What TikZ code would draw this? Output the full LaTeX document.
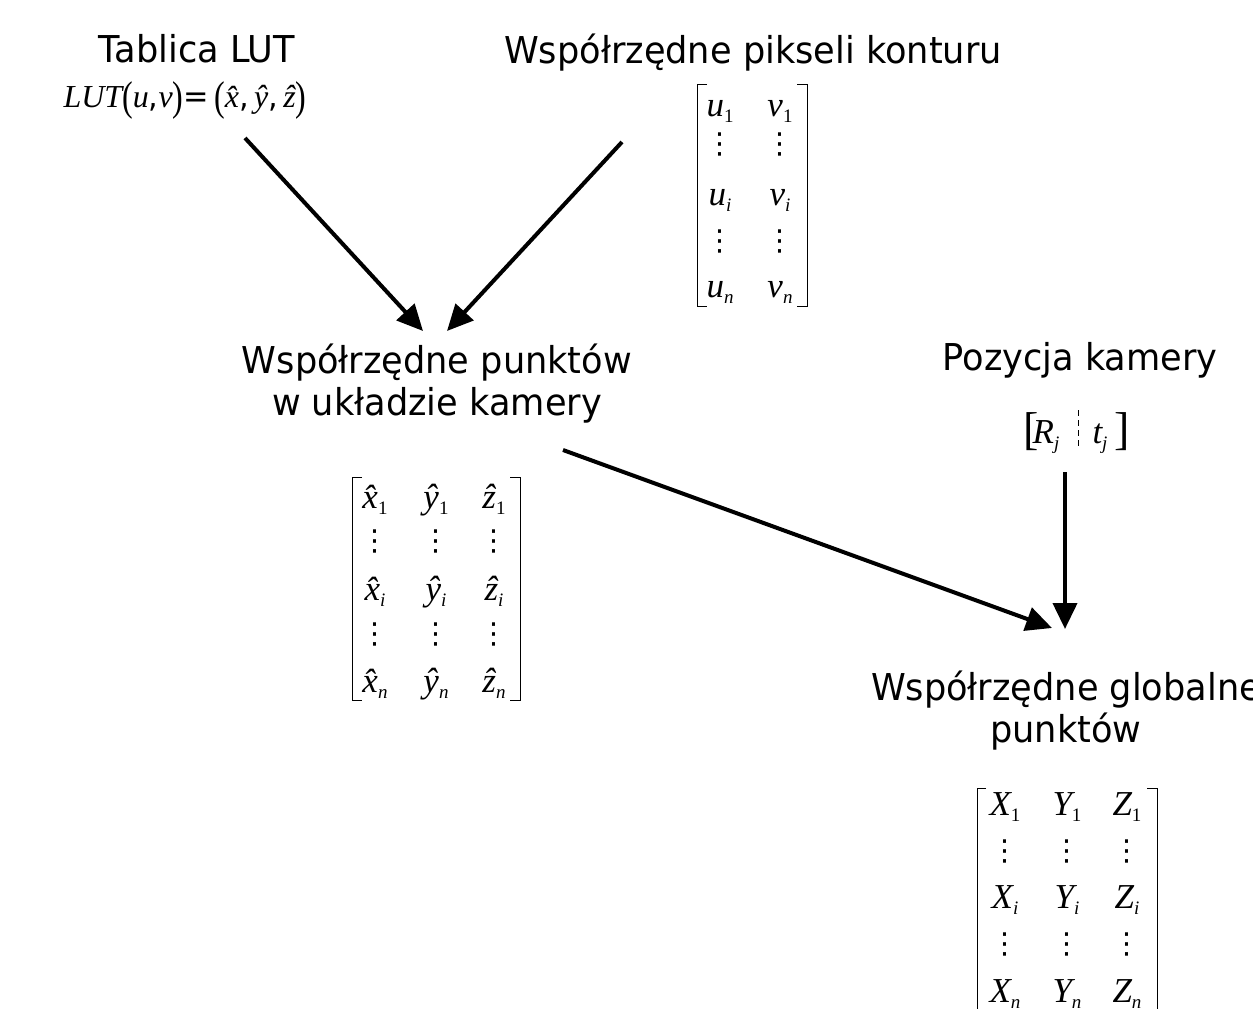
\documentclass[tikz,border=0pt]{standalone}
\usepackage{fontspec}
\usepackage{graphicx}
\setmainfont{DejaVu Sans}[FakeStretch=0.95]
\newfontfamily\tms{Liberation Serif}
\newfontfamily\dejavu{DejaVu Sans}
\usetikzlibrary{arrows.meta}
\newcommand{\mi}[1]{{\tms\itshape #1}}
\newcommand{\sbs}[1]{\raisebox{-6pt}{\fontsize{19}{19}\selectfont\tms #1}}
\newcommand{\sbi}[1]{\raisebox{-6pt}{\fontsize{19}{19}\selectfont\tms\itshape #1}}
\newcommand{\hm}[1]{{\tms\itshape\^#1}}
\newcommand{\bp}[1]{\raisebox{-3pt}{\scalebox{1}[1.3]{\tms #1}}}
\newcommand{\vd}{{\dejavu ⋮}}
\tikzset{
  lbl/.style={font=\fontsize{37}{42}\selectfont, align=center, inner sep=0pt},
  ent/.style={font=\fontsize{35}{35}\selectfont, inner sep=0pt, anchor=base},
  dts/.style={font=\fontsize{29}{29}\selectfont, inner sep=0pt, anchor=center},
  arr/.style={line width=4pt, -{Triangle[length=26pt,width=24pt]}},
  brk/.style={line width=1pt}
}
\begin{document}
\begin{tikzpicture}[x=1pt,y=-1pt]
\useasboundingbox (0,0) rectangle (1253,1009);
% labels
\node[lbl, anchor=base] (lutt) at (197,62) {Tablica LUT};
\node[ent, font=\fontsize{32}{32}\selectfont] (lutf) at (185,107) {\mi{LUT}\bp{(}\mi{u},\mi{v}\bp{)}=\,\bp{(}\hm{x},\,\hm{y},\,\hm{z}\bp{)}};
\node[lbl, anchor=base] (pix) at (753,63) {Współrzędne pikseli konturu};
\node[lbl, anchor=base] (cam) at (437,415) {Współrzędne punktów\\w układzie kamery};
\node[lbl, anchor=base] (poz) at (1080,370) {Pozycja kamery};
\node[lbl, anchor=base] (glob) at (1066,742) {Współrzędne globalne\\punktów};
% camera pose
\node[ent, font=\fontsize{46}{46}\selectfont\tms] (rl) at (1031,444) {[};
\node[ent] (rr) at (1046,443) {\mi{R}\sbi{j}};
\node[ent] (tt) at (1100,443) {\mi{t}\sbi{j}};
\node[ent, font=\fontsize{46}{46}\selectfont\tms] (rrb) at (1122,444) {]};
\draw[line width=1pt, dash pattern=on 6pt off 4pt] (1078,410) -- (1078,448);
% uv matrix
\foreach \c/\l/\x in {a/u/720, b/v/780}{
  \node[ent] (uv1\c) at (\x,116) {\mi{\l}\sbs{1}};
  \node[dts] (uvd1\c) at (\x,144) {\vd};
  \node[ent] (uvi\c) at (\x,205) {\mi{\l}\sbi{i}};
  \node[dts] (uvd2\c) at (\x,241) {\vd};
  \node[ent] (uvn\c) at (\x,297) {\mi{\l}\sbi{n}};
}
\draw[brk] (707,84) -- (697,84) -- (697,306) -- (707,306);
\draw[brk] (797,84) -- (807,84) -- (807,306) -- (797,306);
% xyz matrix
\foreach \c/\l/\x in {a/x/375, b/y/436, c/z/494}{
  \node[ent] (h1\c) at (\x,508) {\hm{\l}\sbs{1}};
  \node[dts] (hd1\c) at (\x,541) {\vd};
  \node[ent] (hi\c) at (\x,600) {\hm{\l}\sbi{i}};
  \node[dts] (hd2\c) at (\x,634) {\vd};
  \node[ent] (hn\c) at (\x,692) {\hm{\l}\sbi{n}};
}
\draw[brk] (362,477) -- (352,477) -- (352,700) -- (362,700);
\draw[brk] (510,477) -- (520,477) -- (520,700) -- (510,700);
% XYZ matrix
\foreach \c/\l/\x in {a/X/1005, b/Y/1067, c/Z/1127}{
  \node[ent] (g1\c) at (\x,815) {\mi{\l}\sbs{1}};
  \node[dts] (gd1\c) at (\x,851) {\vd};
  \node[ent] (gi\c) at (\x,908) {\mi{\l}\sbi{i}};
  \node[dts] (gd2\c) at (\x,944) {\vd};
  \node[ent] (gn\c) at (\x,1002) {\mi{\l}\sbi{n}};
}
\draw[brk] (986,788) -- (977,788) -- (977,1012);
\draw[brk] (1147,788) -- (1157,788) -- (1157,1012);
% arrows
\coordinate (a1s) at (245,138); \coordinate (a1e) at (423,331);
\coordinate (a2s) at (622,142); \coordinate (a2e) at (447,331);
\coordinate (a3s) at (563,450); \coordinate (a3e) at (1052,628);
\coordinate (a4s) at (1065,472); \coordinate (a4e) at (1065,629);
\draw[arr] (a1s) -- (a1e);
\draw[arr] (a2s) -- (a2e);
\draw[arr] (a3s) -- (a3e);
\draw[arr] (a4s) -- (a4e);
\end{tikzpicture}
\end{document}
